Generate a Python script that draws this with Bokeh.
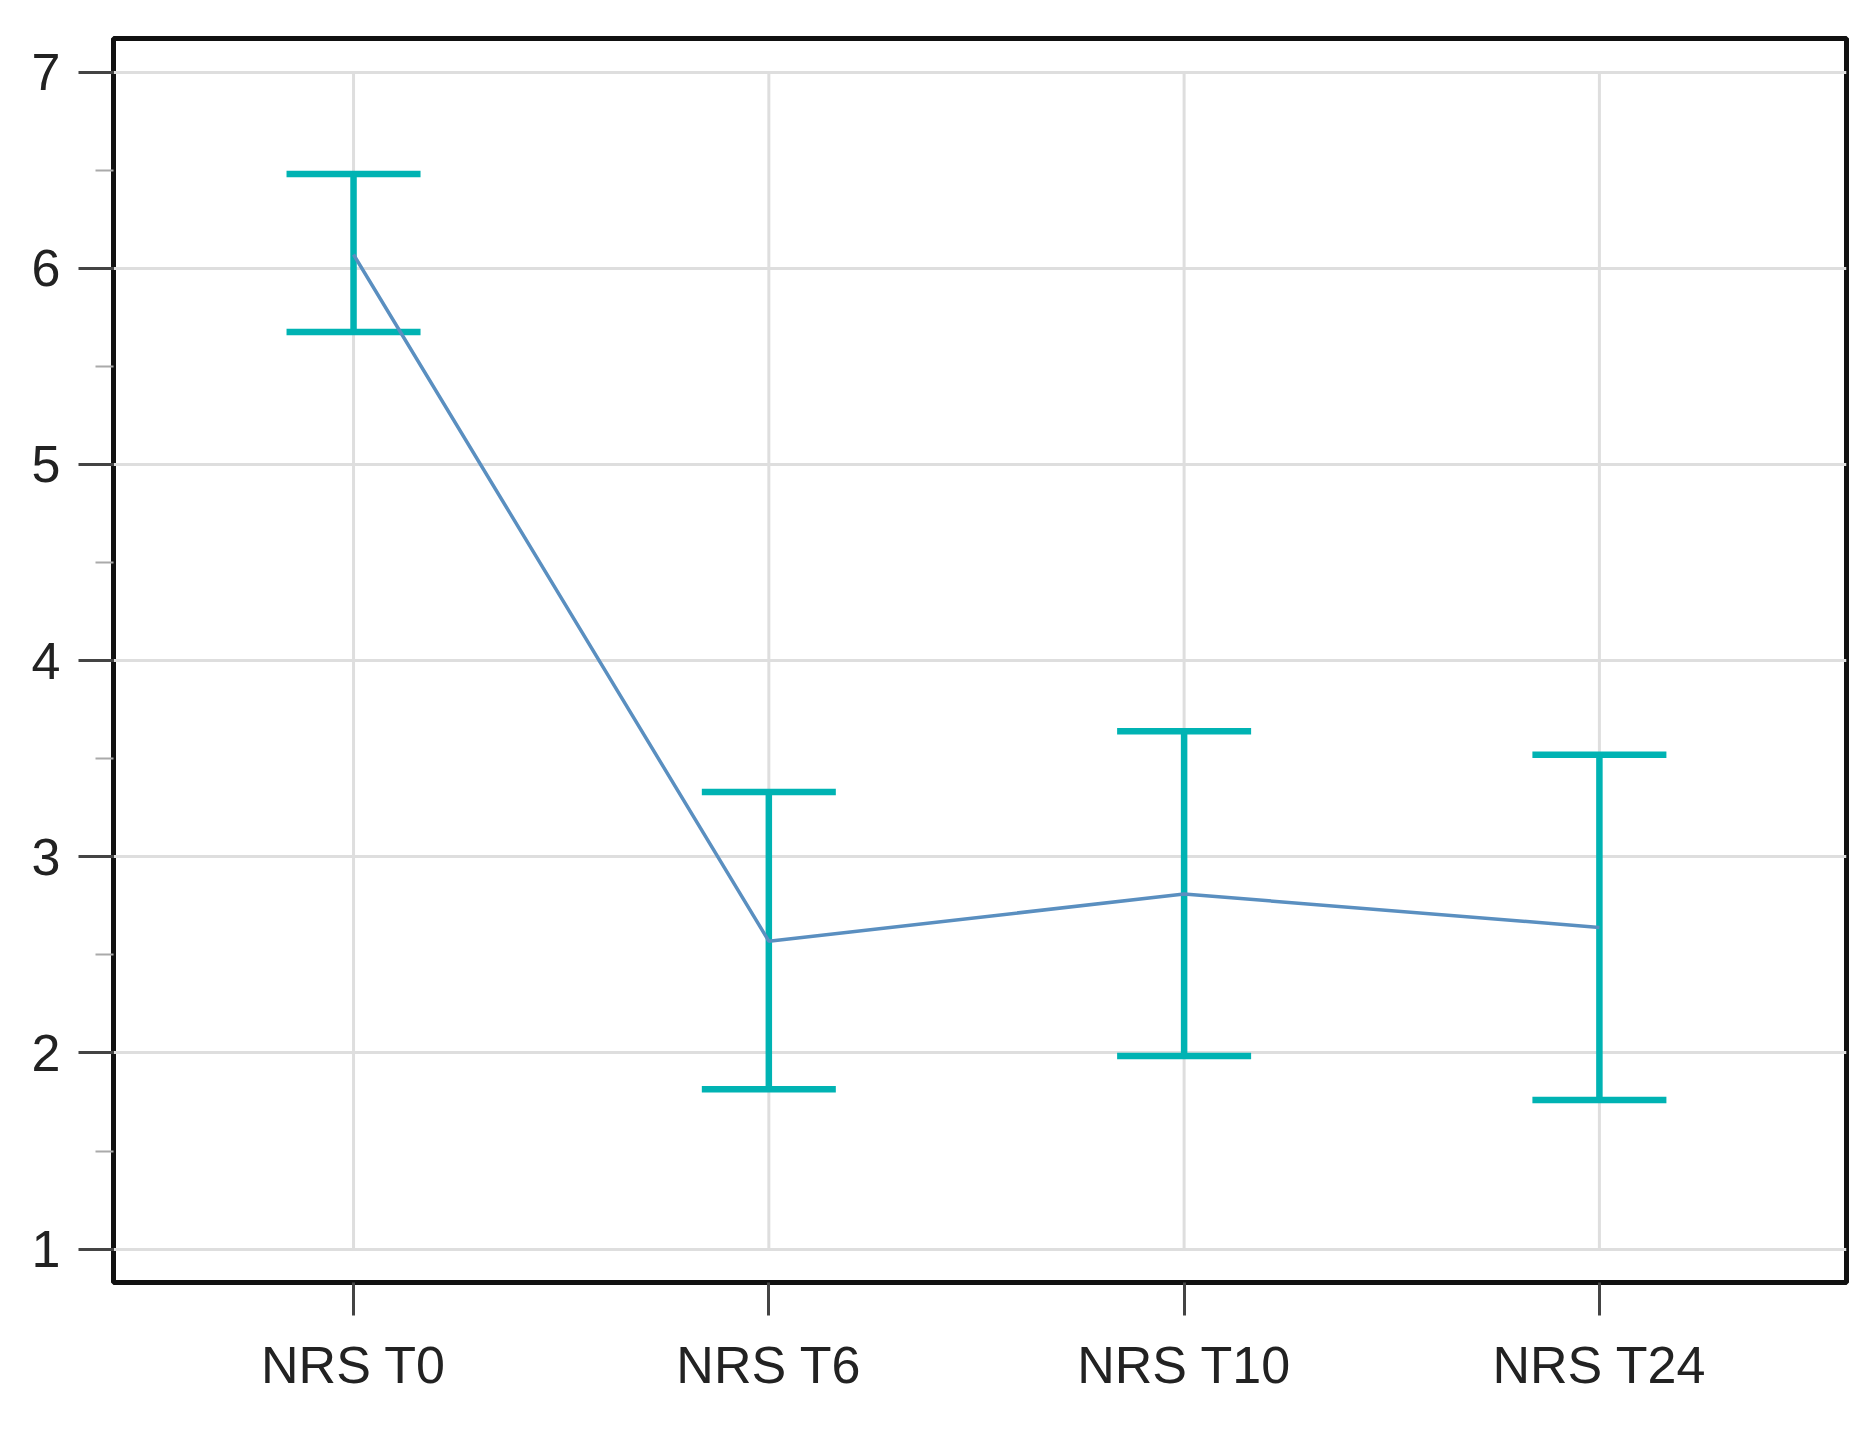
from bokeh.plotting import figure
from bokeh.models import Range1d, FixedTicker, ColumnDataSource, Whisker, TeeHead
from bokeh.embed import file_html
from bokeh.resources import INLINE

categories = ["NRS T0", "NRS T6", "NRS T10", "NRS T24"]
means = [6.07, 2.57, 2.81, 2.64]
upper = [6.48, 3.33, 3.64, 3.52]
lower = [5.675, 1.815, 1.985, 1.76]
y_ticks = [1, 2, 3, 4, 5, 6, 7]

xs = list(range(len(categories)))
src = ColumnDataSource(dict(x=xs, mean=means, upper=upper, lower=lower))

FONT = "Liberation Sans"
TEAL = "#00b3b3"
BLUE = "#5a8fc0"

p = figure(width=1854, height=1424, output_backend="svg", toolbar_location=None,
           x_range=Range1d(-0.578, 3.595), y_range=Range1d(0.83, 7.171),
           min_border_left=113, min_border_right=8, min_border_top=38, min_border_bottom=142)
p.background_fill_color = "white"
p.border_fill_color = "white"
p.outline_line_color = "#111111"
p.outline_line_width = 5

# grids
p.xgrid.visible = False
p.ygrid.ticker = FixedTicker(ticks=y_ticks)
p.ygrid.grid_line_color = "#dedede"
p.ygrid.grid_line_width = 3
p.segment(x0=xs, y0=[min(y_ticks)] * len(xs), x1=xs, y1=[max(y_ticks)] * len(xs),
          line_color="#dedede", line_width=3, level="image")

# axes
p.xaxis.ticker = FixedTicker(ticks=xs)
p.xaxis.major_label_overrides = {i: c for i, c in enumerate(categories)}
p.yaxis.ticker = FixedTicker(ticks=y_ticks, minor_ticks=[t + 0.5 for t in y_ticks[:-1]])
for ax in (p.xaxis[0], p.yaxis[0]):
    ax.axis_line_color = None
    ax.major_tick_in = 0
    ax.major_tick_line_color = "#444444"
    ax.major_tick_line_width = 3
    ax.major_label_text_font = FONT
    ax.major_label_text_color = "#222222"
    ax.major_label_text_font_size = "52px"
p.xaxis.major_tick_out = 33
p.xaxis.minor_tick_line_color = None
p.xaxis.major_label_standoff = 20
p.yaxis.major_tick_out = 35
p.yaxis.minor_tick_in = 0
p.yaxis.minor_tick_out = 18
p.yaxis.minor_tick_line_color = "#aaaaaa"
p.yaxis.minor_tick_line_width = 2
p.yaxis.major_label_standoff = 18

# error bars
w = Whisker(base="x", upper="upper", lower="lower", source=src, dimension="height",
            line_color=TEAL, line_width=6.5,
            upper_head=TeeHead(size=134, line_color=TEAL, line_width=6.5),
            lower_head=TeeHead(size=134, line_color=TEAL, line_width=6.5))
p.add_layout(w)

# mean line
p.line(x="x", y="mean", source=src, line_color=BLUE, line_width=3.5, level="overlay")

open("out.html", "w").write(file_html(p, INLINE))
